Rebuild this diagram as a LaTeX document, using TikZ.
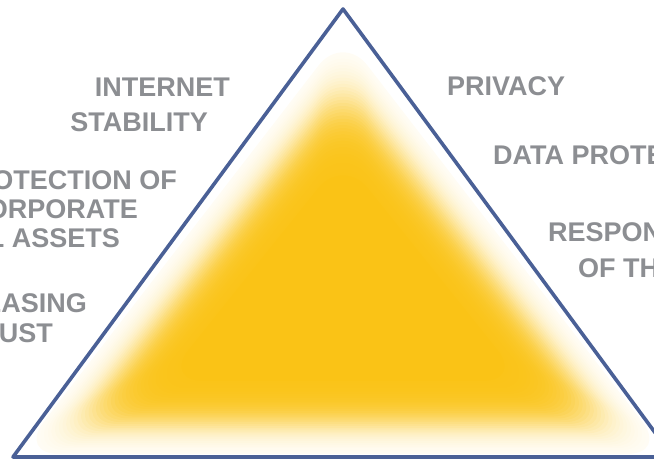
\documentclass[tikz,border=0pt]{standalone}
\usepackage{fontspec}
\setmainfont{Liberation Sans}
\usetikzlibrary{calc}
\definecolor{edgeblue}{RGB}{74,96,150}
\definecolor{glow}{RGB}{250,195,22}
\definecolor{labelgray}{RGB}{140,142,146}
\tikzset{
  lbl/.style={inner sep=0pt, text=labelgray, font=\fontsize{27}{27}\selectfont\bfseries},
  lblL/.style={lbl, anchor=base east},
  lblR/.style={lbl, anchor=base west},
  edgeline/.style={draw=edgeblue, line width=3.6pt, line join=round},
}
\begin{document}
\begin{tikzpicture}[x=1pt,y=-1pt]
\useasboundingbox (0,0) rectangle (654,462);
\clip (0,0) rectangle (654,462);
\coordinate (A) at (343,9);
\coordinate (B) at (13,457);
\coordinate (C) at (673,457);
\coordinate (I) at (343,290.4);
\pgfmathsetmacro{\rin}{166.6}
\pgfmathsetmacro{\dmid}{32}
\pgfmathsetmacro{\sc}{9.5}
\pgfmathsetmacro{\umin}{3}
\pgfmathsetmacro{\umax}{76}
\pgfmathsetmacro{\ustep}{(\umax-\umin)/39}
\foreach \j in {0,...,39} {
  \pgfmathsetmacro{\u}{\umin+\j*\ustep}
  \pgfmathsetmacro{\fc}{1/(1+exp(-(\u-\dmid)/\sc))}
  \pgfmathsetmacro{\fp}{1/(1+exp(-(\u-\ustep-\dmid)/\sc))}
  \pgfmathsetmacro{\op}{\j==0 ? \fc : (\j==39 ? 1 : (\fc-\fp)/(1-\fp))}
  \pgfmathsetmacro{\k}{1-\u/\rin}
  \pgfmathsetmacro{\ka}{\k-0.07}
  \fill[glow, fill opacity=\op, rounded corners=40pt]
    ($(I)!\ka!(A)$) -- ($(I)!\k!(B)$) -- ($(I)!\k!(C)$) -- cycle;
}
\draw[edgeline] (A) -- (B) -- (C) -- cycle;
\node[lblL] (internet) at (230,97) {INTERNET};
\node[lblL] (stability) at (208,132) {STABILITY};
\node[lblL] (protection) at (177,190) {PROTECTION OF};
\node[lblL] (corporate) at (138,219) {CORPORATE};
\node[lblL] (assets) at (120,248) {DIGITAL ASSETS};
\node[lblL] (increasing) at (87,313) {INCREASING};
\node[lblL] (trust) at (53,343) {TRUST};
\node[lblR] (privacy) at (447,96) {PRIVACY};
\node[lblR] (dataprot) at (493,165) {DATA PROTECTION};
\node[lblR] (respons) at (548,242) {RESPONSIBILITY};
\node[lblR] (ofthe) at (578,278) {OF THE STATE};
\end{tikzpicture}
\end{document}
